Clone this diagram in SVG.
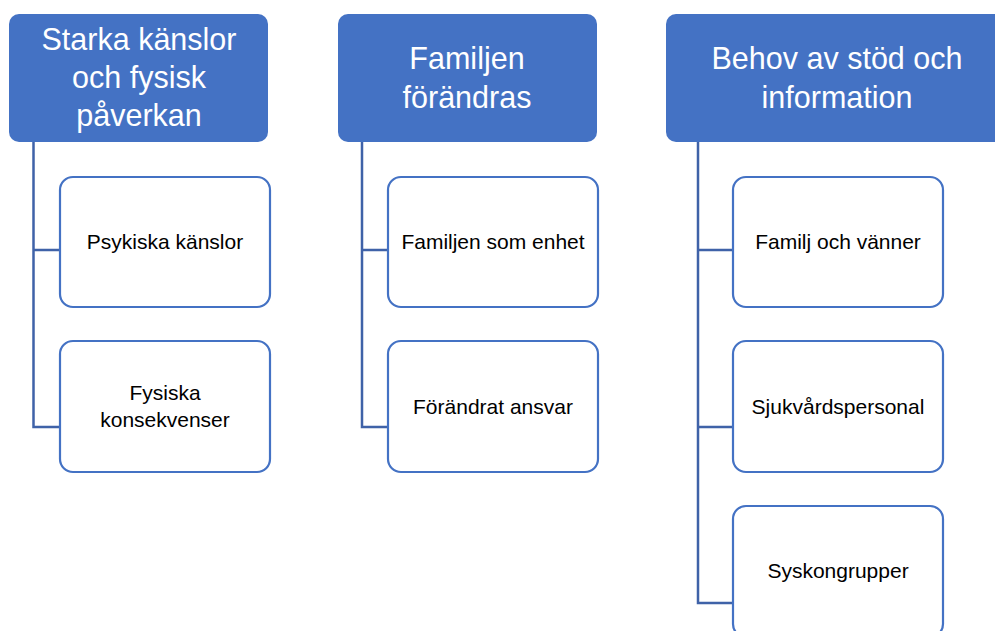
<svg xmlns="http://www.w3.org/2000/svg" width="995" height="631" viewBox="0 0 995 631">
<style>
.hdr{fill:#4472C4;}
.hdr-t{fill:#fff;font-family:"Liberation Sans",Arial,sans-serif;font-size:30.5px;text-anchor:middle;}
.box{fill:#fff;stroke:#4472C4;stroke-width:2.2;}
.box-t{fill:#000;font-family:"Liberation Sans",Arial,sans-serif;font-size:21px;text-anchor:middle;}
.conn{fill:none;stroke:#3F62A8;stroke-width:2.5;}
</style>
<rect width="995" height="631" fill="#fff"/>
<g id="connectors">
<path class="conn" d="M33.5 142 V427 H60 M33.5 250 H60"/>
<path class="conn" d="M362 142 V427 H388 M362 250 H388"/>
<path class="conn" d="M698 142 V603 H733 M698 250 H733 M698 427 H733"/>
</g>
<g id="h1"><rect class="hdr" x="9" y="14" width="259" height="128" rx="10"/>
<text class="hdr-t" x="139" y="50">Starka känslor</text>
<text class="hdr-t" x="139" y="88">och fysisk</text>
<text class="hdr-t" x="139" y="126">påverkan</text></g>
<g id="h2"><rect class="hdr" x="338" y="14" width="259" height="128" rx="10"/>
<text class="hdr-t" x="467" y="69">Familjen</text>
<text class="hdr-t" x="467" y="108">förändras</text></g>
<g id="h3"><rect class="hdr" x="666" y="14" width="342" height="128" rx="10"/>
<text class="hdr-t" x="837" y="69">Behov av stöd och</text>
<text class="hdr-t" x="837" y="108">information</text></g>
<g id="c1a"><rect class="box" x="60" y="177" width="210" height="130" rx="13"/>
<text class="box-t" x="165" y="249">Psykiska känslor</text></g>
<g id="c1b"><rect class="box" x="60" y="341" width="210" height="131" rx="13"/>
<text class="box-t" x="165" y="400">Fysiska</text>
<text class="box-t" x="165" y="427">konsekvenser</text></g>
<g id="c2a"><rect class="box" x="388" y="177" width="210" height="130" rx="13"/>
<text class="box-t" x="493" y="249">Familjen som enhet</text></g>
<g id="c2b"><rect class="box" x="388" y="341" width="210" height="131" rx="13"/>
<text class="box-t" x="493" y="414">Förändrat ansvar</text></g>
<g id="c3a"><rect class="box" x="733" y="177" width="210" height="130" rx="13"/>
<text class="box-t" x="838" y="249">Familj och vänner</text></g>
<g id="c3b"><rect class="box" x="733" y="341" width="210" height="131" rx="13"/>
<text class="box-t" x="838" y="414">Sjukvårdspersonal</text></g>
<g id="c3c"><rect class="box" x="733" y="506" width="210" height="131" rx="13"/>
<text class="box-t" x="838" y="578">Syskongrupper</text></g>
</svg>
